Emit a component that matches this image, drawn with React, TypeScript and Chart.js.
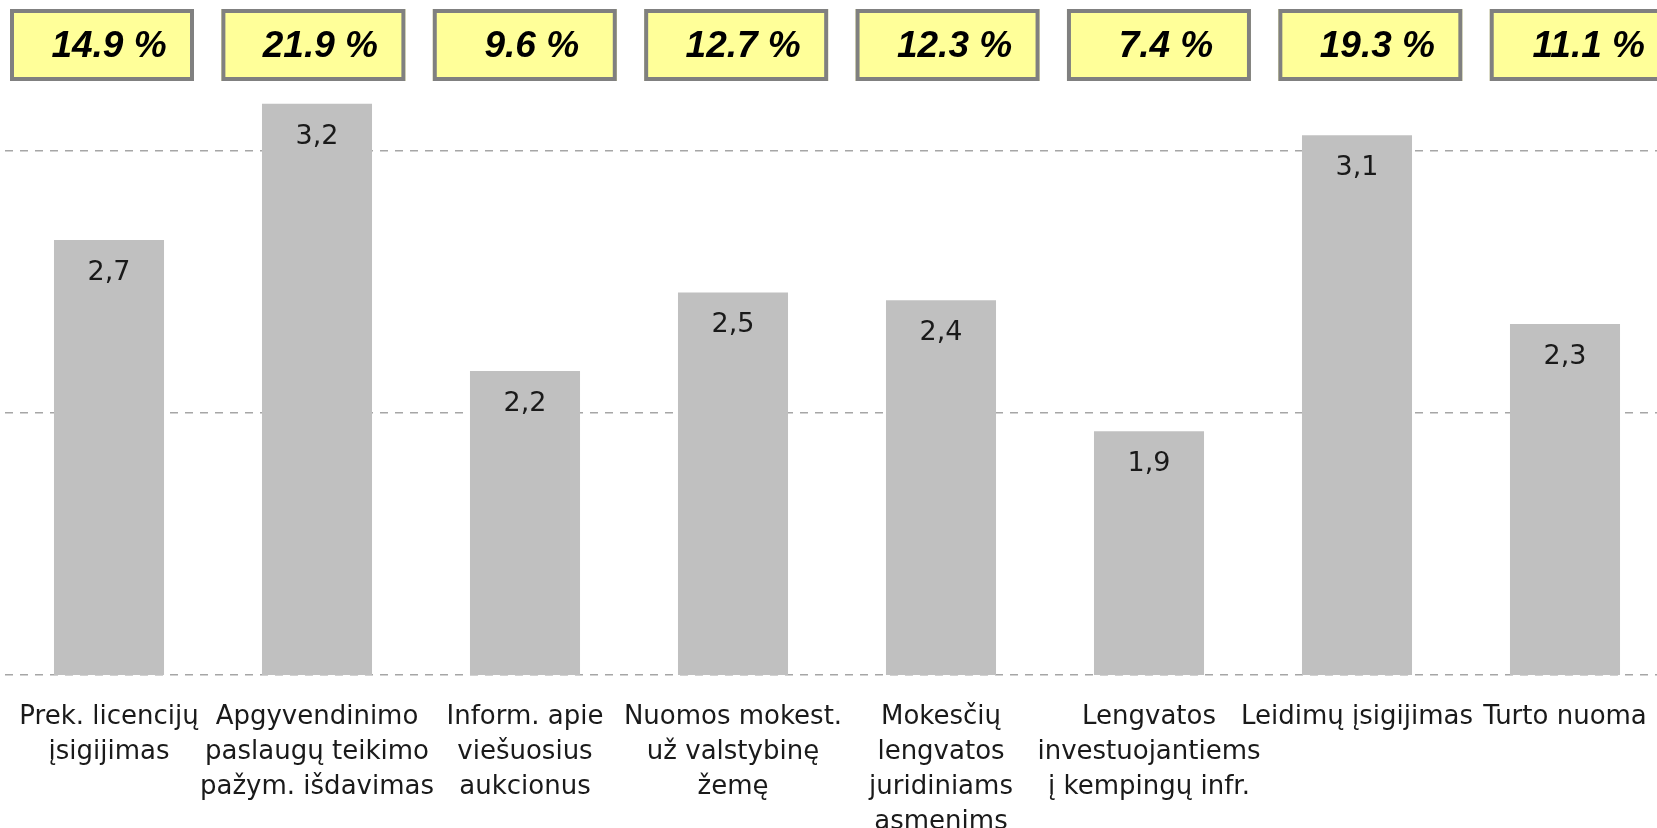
import React, { useEffect, useRef } from "react";
import { Chart, registerables } from "chart.js";

Chart.register(...registerables);

// ---- data ----
const CATEGORIES: string[][] = [
  ["Prek. licencijų", "įsigijimas"],
  ["Apgyvendinimo", "paslaugų teikimo", "pažym. išdavimas"],
  ["Inform. apie", "viešuosius", "aukcionus"],
  ["Nuomos mokest.", "už valstybinę", "žemę"],
  ["Mokesčių", "lengvatos", "juridiniams", "asmenims"],
  ["Lengvatos", "investuojantiems", "į kempingų infr."],
  ["Leidimų įsigijimas"],
  ["Turto nuoma"],
];
const VALUES: number[] = [2.66, 3.18, 2.16, 2.46, 2.43, 1.93, 3.06, 2.34];
const SHARES: number[] = [14.9, 21.9, 9.6, 12.7, 12.3, 7.4, 19.3, 11.1];
const Y_MIN = 1;
const Y_MAX = 3.5;
const Y_STEP = 1;

const W = 1700;
const H = 828;

export default function App() {
  const ref = useRef<HTMLCanvasElement>(null);

  useEffect(() => {
    const canvas = ref.current!;

    const valueLabels = {
      id: "valueLabels",
      afterDatasetsDraw(chart: any) {
        const ctx = chart.ctx;
        const meta = chart.getDatasetMeta(0);
        ctx.save();
        ctx.font = '27px "DejaVu Sans"';
        ctx.fillStyle = "#1a1a1a";
        ctx.textAlign = "center";
        ctx.textBaseline = "alphabetic";
        meta.data.forEach((bar: any, i: number) => {
          ctx.fillText(VALUES[i].toFixed(1).replace(".", ","), bar.x, bar.y + 40);
        });
        ctx.restore();
      },
    };

    const shareBoxes = {
      id: "shareBoxes",
      afterDraw(chart: any) {
        const ctx = chart.ctx;
        const xs = chart.scales.x;
        const step = (xs.right - xs.left) / CATEGORIES.length;
        const pitch = step * 1.0163;
        const c0 = xs.getPixelForValue(0) - 7;
        const bw = 184;
        const bh = 72;
        const top = 9;
        ctx.save();
        SHARES.forEach((s, i) => {
          const cx = c0 + i * pitch;
          const left = cx - bw / 2;
          ctx.fillStyle = "#FFFF99";
          ctx.fillRect(left, top, bw, bh);
          ctx.strokeStyle = "#808080";
          ctx.lineWidth = 4;
          ctx.strokeRect(left + 2, top + 2, bw - 4, bh - 4);
          ctx.fillStyle = "#000000";
          ctx.font = 'italic bold 37px "Liberation Sans"';
          ctx.textAlign = "center";
          ctx.textBaseline = "alphabetic";
          ctx.fillText(s.toFixed(1) + " %", cx + 7, top + 48);
        });
        ctx.restore();
      },
    };

    const chart = new Chart(canvas, {
      type: "bar",
      data: {
        labels: CATEGORIES,
        datasets: [
          {
            data: VALUES,
            backgroundColor: "#C0C0C0",
            borderWidth: 0,
            categoryPercentage: 1,
            barPercentage: 0.529,
          },
        ],
      },
      options: {
        responsive: false,
        maintainAspectRatio: false,
        devicePixelRatio: 1,
        animation: false,
        layout: { padding: { left: 5, right: 31, top: 20, bottom: 0 } },
        plugins: {
          legend: { display: false },
          tooltip: { enabled: false },
          title: { display: false },
        },
        scales: {
          x: {
            grid: { display: false, drawTicks: false },
            border: { display: false },
            ticks: {
              autoSkip: false,
              maxRotation: 0,
              minRotation: 0,
              padding: 25,
              color: "#1a1a1a",
              font: { family: "DejaVu Sans", size: 26, lineHeight: "35px" },
            },
            afterFit: (s: any) => {
              s.height = 153;
              s.paddingLeft = 0;
              s.paddingRight = 0;
            },
          },
          y: {
            min: Y_MIN,
            max: Y_MAX,
            ticks: { display: false, stepSize: Y_STEP },
            grid: {
              drawTicks: false,
              lineWidth: 1.5,
              color: (c: any) =>
                c.tick && Number.isInteger(c.tick.value) ? "#A6A6A6" : "rgba(0,0,0,0)",
            },
            border: { display: false, dash: [8, 7] },
            afterFit: (s: any) => {
              s.width = 0;
            },
          },
        },
      },
      plugins: [valueLabels, shareBoxes],
    });

    return () => chart.destroy();
  }, []);

  return (
    <div
      style={{
        position: "fixed",
        left: 0,
        top: 0,
        width: "1657px",
        height: "828px",
        overflow: "hidden",
        background: "#ffffff",
      }}
    >
      <canvas
        ref={ref}
        width={W}
        height={H}
        style={{ display: "block", width: W + "px", height: H + "px" }}
      />
    </div>
  );
}
